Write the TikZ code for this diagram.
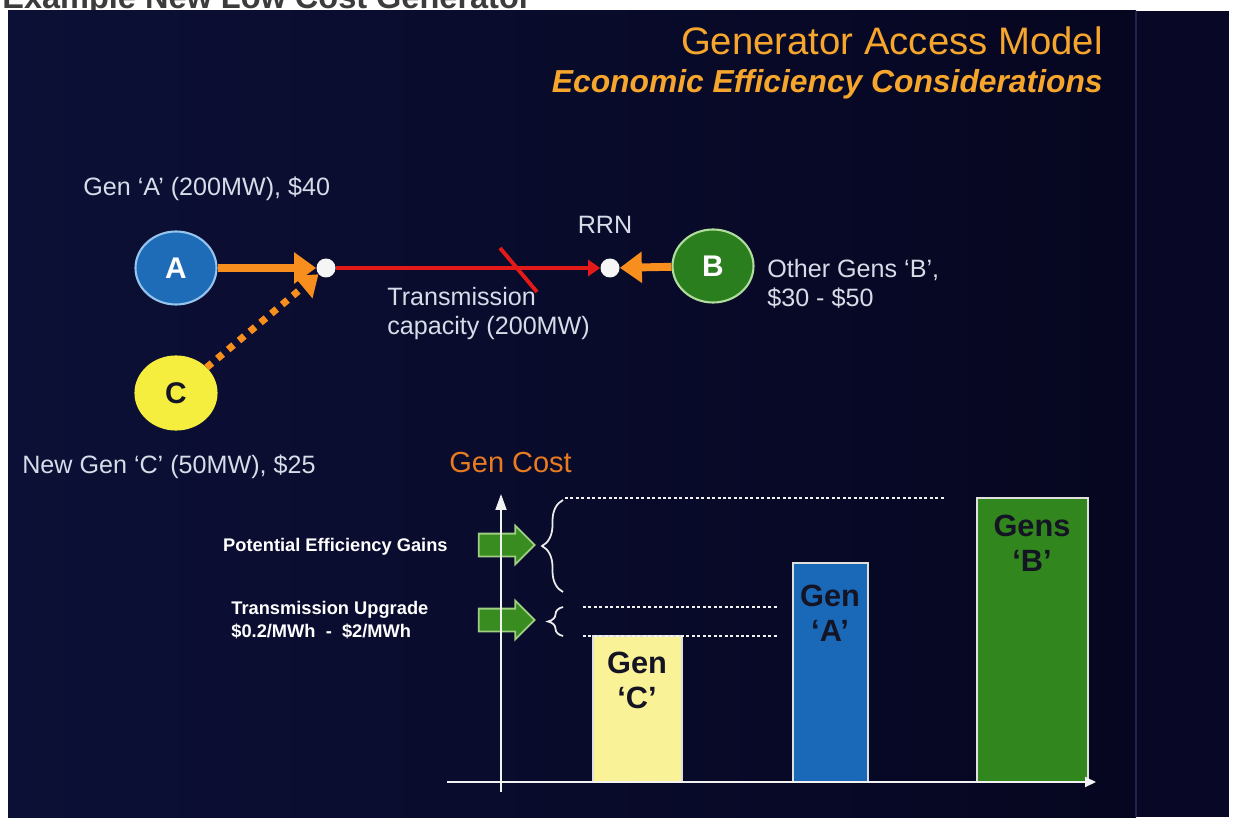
\documentclass[tikz,border=0pt]{standalone}
\usepackage{fontspec}
\setmainfont{Liberation Sans}
\usetikzlibrary{arrows.meta,shapes.geometric,shapes.arrows,decorations.pathreplacing,positioning}

\definecolor{panelL}{RGB}{12,16,54}
\definecolor{panelR}{RGB}{6,6,32}
\definecolor{band}{RGB}{8,8,38}
\definecolor{bandline}{RGB}{34,34,78}
\definecolor{hdrgray}{RGB}{60,60,60}
\definecolor{titleOr}{RGB}{246,166,44}
\definecolor{costOr}{RGB}{232,122,34}
\definecolor{orangeA}{RGB}{247,142,30}
\definecolor{redL}{RGB}{228,26,24}
\definecolor{txtgray}{RGB}{214,220,232}
\definecolor{genA}{RGB}{30,108,184}
\definecolor{genAline}{RGB}{150,196,236}
\definecolor{genB}{RGB}{42,126,30}
\definecolor{genBline}{RGB}{176,220,156}
\definecolor{genC}{RGB}{246,238,62}
\definecolor{barC}{RGB}{250,242,150}
\definecolor{barA}{RGB}{26,104,184}
\definecolor{barB}{RGB}{50,134,30}
\definecolor{bartext}{RGB}{20,20,36}
\definecolor{greenArr}{RGB}{56,140,32}
\definecolor{greenEdge}{RGB}{160,206,130}

\begin{document}
\begin{tikzpicture}[x=0.02cm,y=-0.02cm,
        lbl/.style={text=txtgray,font=\fontsize{14.3}{17}\selectfont,inner sep=0pt},
        side/.style={text=white,font=\fontsize{10.4}{13}\selectfont\bfseries,inner sep=0pt},
        gen/.style={ellipse,minimum width=1.62cm,minimum height=1.46cm,line width=1.2pt,inner sep=0pt,font=\fontsize{17}{20}\selectfont\bfseries},
        dot/.style={circle,fill=white!92!gray,minimum size=0.38cm,inner sep=0pt},
        feed/.style={draw=orangeA,line width=4.5pt,-{Triangle[length=0.44cm,width=0.6cm]}},
        bar/.style={draw=white!75!gray,line width=0.8pt},
        bartxt/.style={text=bartext,font=\fontsize{17.5}{19.5}\selectfont\bfseries,inner sep=0pt,align=center},
        guide/.style={draw=white!90!gray,line width=1.7pt,dash pattern=on 1.7pt off 1.4pt},
        brace/.style={draw=white!85!gray,line width=1pt,decorate},
        axis/.style={draw=white!90!gray,line width=1.1pt},
        blockarrow/.style={single arrow,draw=greenEdge,fill=greenArr,line width=1pt,minimum height=1.12cm,inner xsep=0pt,inner ysep=0.21cm,single arrow head extend=0.16cm},
        ]
        \useasboundingbox (0,0) rectangle (1236,820);
        \clip (0,0) rectangle (1236,820);
        \fill[white] (0,0) rectangle (1236,820);
        \node[anchor=base west,text=hdrgray,font=\fontsize{18.5}{20}\selectfont\bfseries,inner sep=0pt] (hdr) at (2,9) {Example New Low Cost Generator};
        \shade[left color=panelL,right color=panelR] (8,11) rectangle (1136,817);
        \fill[band] (1136,11) rectangle (1229,817);
        \draw[bandline,line width=0.6pt] (1136,11) -- (1136,817);

        \node[anchor=base east,text=titleOr,font=\fontsize{21.8}{26}\selectfont,inner sep=0pt] (title) at (1103,55) {Generator Access Model};
        \node[anchor=base east,text=titleOr,font=\fontsize{18.1}{22}\selectfont\bfseries\itshape,inner sep=0pt] (subtitle) at (1103,93) {Economic Efficiency Considerations};

        \node[gen,draw=genAline,fill=genA,text=white] (A) at (176,268) {A};
        \node[gen,draw=genBline,fill=genB,text=white] (B) at (713,266) {B};
        \node[gen,draw=genC,fill=genC,text=bartext] (C) at (176,393) {C};
        \node[dot] (j) at (326,268) {};
        \node[dot] (rrn) at (610,268) {};

        \draw[feed] (A) -- (j);
        \draw[feed] (B) -- (rrn);
        \draw[orangeA,line width=4pt,dash pattern=on 4pt off 4pt,-{Triangle[length=0.4cm,width=0.56cm]}] (C) -- (j);
        \draw[redL,line width=2.8pt,-{Triangle[length=0.24cm,width=0.32cm]}] (j) -- (rrn);
        \draw[redL,line width=2.2pt] (500,248) -- (537,292);

        \node[lbl,anchor=base west] (labA) at (83,196) {Gen `A' (200MW), \$40};
        \node[lbl,anchor=base west] (labC) at (22,473) {New Gen `C' (50MW), \$25};
        \node[lbl,anchor=base] (labrrn) at (605,234) {RRN};
        \node[lbl,anchor=base west,align=left] (labB) at (767,307) {Other Gens `B',\\\$30 - \$50};
        \node[lbl,anchor=base west,align=left] (labT) at (387,335) {Transmission\\capacity (200MW)};

        \node[anchor=base west,text=costOr,font=\fontsize{16.5}{20}\selectfont,inner sep=0pt] (cost) at (449,472) {Gen Cost};

        \foreach \n/\xa/\xb/\yt in {C/593/682/636, A/793/868/563, B/977/1088/498}
        {
            \draw[bar,fill=bar\n] (\xa,\yt) rectangle (\xb,782);
        }
        \node[bartxt,anchor=base] (tC) at (637,708) {Gen\\`C'};
        \node[bartxt,anchor=base] (tA) at (830,641) {Gen\\`A'};
        \node[bartxt,anchor=base] (tB) at (1032,571) {Gens\\`B'};

        \draw[guide] (565,498) -- (945,498);
        \foreach \y in {607,636}
        {
            \draw[guide] (583,\y) -- (778,\y);
        }

        \foreach \n/\y in {gain/545, upg/620}
        {
            \node[blockarrow] (arr\n) at (501,\y) {};
        }
        \draw[brace,decoration={brace,amplitude=0.42cm}] (563,592) -- (563,500);
        \draw[brace,decoration={brace,amplitude=0.3cm}] (563,636) -- (563,607);

        \coordinate (ybot) at (501,792);
        \coordinate (ytop) at (501,494);
        \coordinate (xl) at (447,782);
        \coordinate (xr) at (1096,782);
        \draw[axis,-{Triangle[length=0.32cm,width=0.22cm]}] (ybot) -- (ytop);
        \draw[axis,-{Triangle[length=0.22cm,width=0.2cm]}] (xl) -- (xr);

        \node[side,anchor=base east] (labgain) at (448,551) {Potential Efficiency Gains};
        \node[side,anchor=base west,align=left] (labupg) at (231,637) {Transmission Upgrade\\\$0.2/MWh~~-~~\$2/MWh};
    \end{tikzpicture}
\end{document}
